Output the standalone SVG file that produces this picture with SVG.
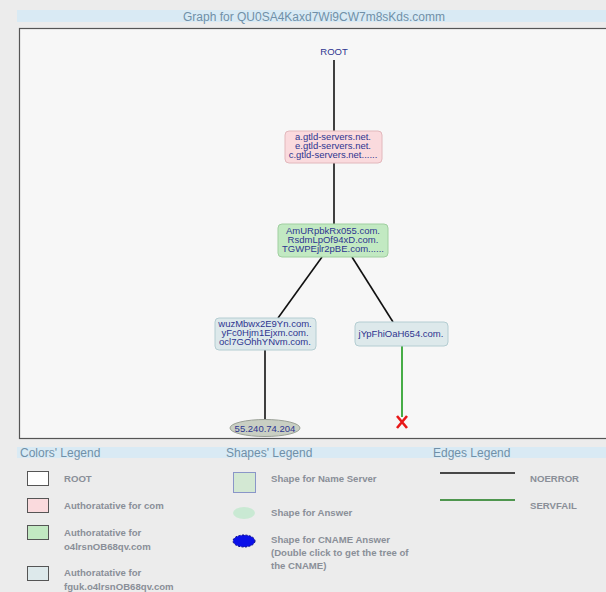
<svg xmlns="http://www.w3.org/2000/svg" width="606" height="592" viewBox="0 0 606 592">
<defs>
<style>
.bar{fill:#d9eaf4}
.bartxt{font-family:"Liberation Sans",Arial,sans-serif;font-size:12px;fill:#7090a8}
.ntxt{font-family:"Liberation Sans",Arial,sans-serif;font-size:9.5px;fill:#2e3590;text-anchor:middle}
.edge{stroke:#111;stroke-width:1.6;fill:none}
.fail{stroke:#1a9a1a;stroke-width:1.6;fill:none}
.lg{font-family:"Liberation Sans",Arial,sans-serif;font-size:9.6px;font-weight:bold;fill:#8a8f98}
.sw{stroke:#555;stroke-width:1}
</style>
</defs>
<rect x="0" y="0" width="606" height="592" fill="#ececec"/>
<rect x="17" y="10" width="589" height="12" class="bar"/>
<text x="314" y="20.5" text-anchor="middle" class="bartxt">Graph for QU0SA4Kaxd7Wi9CW7m8sKds.comm</text>
<rect x="19.5" y="28.5" width="600" height="410" fill="#f7f7f7" stroke="#555" stroke-width="1.2"/>

<g id="connectors">
<line class="edge" x1="334" y1="60" x2="334" y2="131"/>
<line class="edge" x1="334" y1="163" x2="334" y2="224"/>
<line class="edge" x1="322" y1="257" x2="278" y2="318"/>
<line class="edge" x1="352" y1="257" x2="393" y2="322"/>
<line class="edge" x1="265" y1="350" x2="265" y2="420"/>
<line class="fail" x1="402" y1="346" x2="402" y2="417"/>
</g>

<g id="root">
<text x="334" y="55" class="ntxt">ROOT</text>
</g>
<g id="com">
<rect x="285" y="131" width="97" height="32" rx="4" fill="#fadadd" stroke="#e2b8bc"/>
<text x="333" y="140" class="ntxt">a.gtld-servers.net.</text>
<text x="333" y="149" class="ntxt">e.gtld-servers.net.</text>
<text x="333" y="158" class="ntxt">c.gtld-servers.net......</text>
</g>
<g id="o4">
<rect x="278" y="224" width="110" height="33" rx="4" fill="#c2e9c2" stroke="#a0cfa0"/>
<text x="333" y="234" class="ntxt">AmURpbkRx055.com.</text>
<text x="333" y="243" class="ntxt">RsdmLpOf94xD.com.</text>
<text x="333" y="252" class="ntxt">TGWPEjlr2pBE.com......</text>
</g>
<g id="fguk1">
<rect x="215" y="318" width="101" height="32" rx="4" fill="#dde9eb" stroke="#b4cdd2"/>
<text x="265" y="327" class="ntxt">wuzMbwx2E9Yn.com.</text>
<text x="265" y="336" class="ntxt">yFc0Hjm1Ejxm.com.</text>
<text x="265" y="345" class="ntxt">ocl7GOhhYNvm.com.</text>
</g>
<g id="fguk2">
<rect x="355" y="322" width="93" height="24" rx="4" fill="#dde9eb" stroke="#b4cdd2"/>
<text x="401" y="337" class="ntxt">jYpFhiOaH654.com.</text>
</g>
<g id="answer">
<ellipse cx="265" cy="428" rx="35" ry="8.5" fill="#c9cfc3" stroke="#9aa096"/>
<text x="265" y="431.5" class="ntxt" fill="#333366">55.240.74.204</text>
</g>
<g id="fail">
<path d="M397 416 L407 428 M407 416 L397 428" stroke="#e81818" stroke-width="2.6" fill="none"/>
</g>

<g id="legend">
<rect x="17" y="447" width="589" height="11" class="bar"/>
<text x="20" y="457" class="bartxt">Colors' Legend</text>
<text x="226" y="457" class="bartxt">Shapes' Legend</text>
<text x="433" y="457" class="bartxt">Edges Legend</text>

<rect x="27.5" y="471.5" width="21" height="14" fill="#ffffff" class="sw"/>
<rect x="27.5" y="498.5" width="21" height="14" fill="#fadadd" class="sw"/>
<rect x="27.5" y="525.5" width="21" height="14" fill="#c2e9c2" class="sw"/>
<rect x="27.5" y="566.5" width="21" height="14" fill="#dde9eb" class="sw"/>
<text x="64" y="482" class="lg">ROOT</text>
<text x="64" y="509" class="lg">Authoratative for com</text>
<text x="64" y="536" class="lg">Authoratative for</text>
<text x="64" y="549.5" class="lg">o4lrsnOB68qv.com</text>
<text x="64" y="576" class="lg">Authoratative for</text>
<text x="64" y="589.5" class="lg">fguk.o4lrsnOB68qv.com</text>

<rect x="233.5" y="472.5" width="22" height="20" fill="#d3e8d3" stroke="#8a96c8"/>
<ellipse cx="244" cy="513" rx="11" ry="6" fill="#c9e9d3"/>
<ellipse cx="244" cy="541" rx="11" ry="6" fill="#0a10e8" stroke="#000080" stroke-dasharray="2,1.5"/>
<text x="271" y="482" class="lg">Shape for Name Server</text>
<text x="271" y="516" class="lg">Shape for Answer</text>
<text x="271" y="543" class="lg">Shape for CNAME Answer</text>
<text x="271" y="556" class="lg">(Double click to get the tree of</text>
<text x="271" y="569" class="lg">the CNAME)</text>

<line x1="440" y1="473" x2="515" y2="473" stroke="#111" stroke-width="1.6"/>
<line x1="440" y1="500" x2="515" y2="500" stroke="#1a7a1a" stroke-width="1.6"/>
<text x="530" y="482" class="lg">NOERROR</text>
<text x="530" y="509" class="lg">SERVFAIL</text>
</g>
</svg>
